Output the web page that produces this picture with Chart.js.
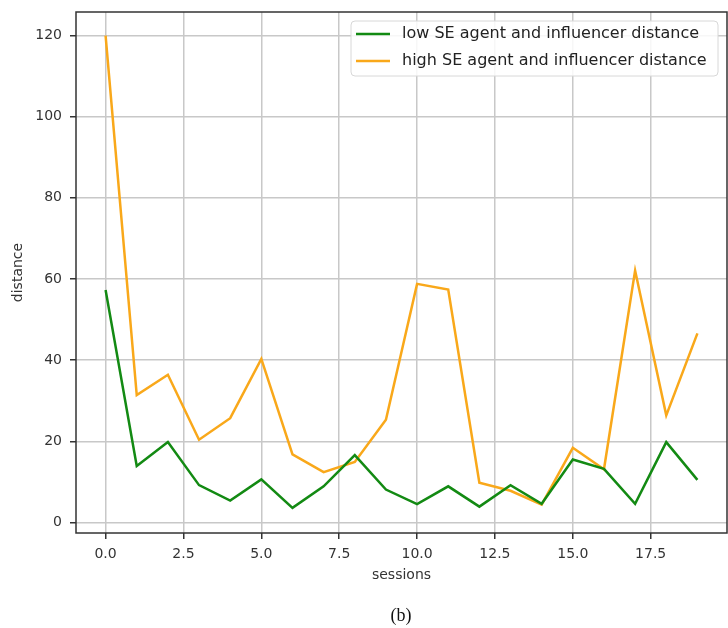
<!DOCTYPE html>
<html>
<head>
<meta charset="utf-8">
<script src="https://cdn.jsdelivr.net/npm/chart.js@4/dist/chart.umd.min.js"></script>
<style>
html,body{margin:0;padding:0;background:#fff;}
#wrap{width:728px;height:628px;position:relative;}
</style>
</head>
<body>
<div id="wrap"><canvas id="c" width="728" height="628"></canvas></div>
<script>
const sessions = [0,1,2,3,4,5,6,7,8,9,10,11,12,13,14,15,16,17,18,19];
const lowSE = [57.3,13.9,19.8,9.2,5.4,10.6,3.6,8.9,16.6,8.1,4.5,8.9,3.9,9.2,4.6,15.5,13.2,4.6,19.8,10.5];
const highSE = [120.0,31.4,36.4,20.4,25.7,40.3,16.8,12.4,14.9,25.3,58.8,57.4,9.8,7.8,4.4,18.4,13.1,62.1,26.4,46.6];
const seriesLabels = ['low SE agent and influencer distance','high SE agent and influencer distance'];
const seriesColors = ['#138a13','#f9a81a'];
const xTicks = [0,2.5,5,7.5,10,12.5,15,17.5];
const xTickLabels = ['0.0','2.5','5.0','7.5','10.0','12.5','15.0','17.5'];
const yTicks = [0,20,40,60,80,100,120];
const yTickLabels = ['0','20','40','60','80','100','120'];
const xTitle = 'sessions';
const yTitle = 'distance';
const caption = '(b)';

const FONT = 'DejaVu Sans';
const toPts = arr => arr.map((v,i)=>({x:sessions[i], y:v}));

const deco = {
  id:'deco',
  beforeDraw(chart){
    const {ctx} = chart;
    ctx.save();
    ctx.fillStyle='#fff';
    ctx.fillRect(0,0,chart.width,chart.height);
    ctx.restore();
  },
  afterDraw(chart){
    const {ctx, chartArea:a} = chart;
    ctx.save();
    ctx.strokeStyle='#333';
    ctx.lineWidth=1.5;
    ctx.strokeRect(a.left, a.top, a.right-a.left, a.bottom-a.top);
    const bx=351, by=21, bw=367, bh=55, r=4;
    ctx.beginPath();
    ctx.moveTo(bx+r,by);
    ctx.arcTo(bx+bw,by,bx+bw,by+bh,r);
    ctx.arcTo(bx+bw,by+bh,bx,by+bh,r);
    ctx.arcTo(bx,by+bh,bx,by,r);
    ctx.arcTo(bx,by,bx+bw,by,r);
    ctx.closePath();
    ctx.fillStyle='rgba(255,255,255,0.85)';
    ctx.fill();
    ctx.strokeStyle='#d8d8d8';
    ctx.lineWidth=1;
    ctx.stroke();
    chart.data.datasets.forEach((ds,i)=>{
      const y = 34 + i*27;
      ctx.strokeStyle=ds.borderColor;
      ctx.lineWidth=2.5;
      ctx.beginPath();
      ctx.moveTo(356,y);ctx.lineTo(390,y);
      ctx.stroke();
      ctx.fillStyle='#222';
      ctx.font='16px "'+FONT+'"';
      ctx.textBaseline='middle';
      ctx.textAlign='left';
      ctx.fillText(ds.label,402,y);
    });
    ctx.fillStyle='#111';
    ctx.font='18px "Liberation Serif"';
    ctx.textAlign='center';
    ctx.textBaseline='middle';
    ctx.fillText(caption,401,616);
    ctx.restore();
  }
};

new Chart(document.getElementById('c'),{
  type:'line',
  data:{
    datasets:[
      {label:seriesLabels[0], data:toPts(lowSE), borderColor:seriesColors[0], backgroundColor:seriesColors[0], borderWidth:2.5, pointRadius:0, tension:0, fill:false},
      {label:seriesLabels[1], data:toPts(highSE), borderColor:seriesColors[1], backgroundColor:seriesColors[1], borderWidth:2.5, pointRadius:0, tension:0, fill:false}
    ]
  },
  options:{
    responsive:false,
    animation:false,
    devicePixelRatio:1,
    layout:{padding:{left:0,top:12,right:1,bottom:0}},
    plugins:{legend:{display:false}, tooltip:{enabled:false}},
    scales:{
      x:{
        type:'linear', min:-0.95, max:19.95,
        afterFit(s){ s.height = 95; s.paddingLeft = 0; s.paddingRight = 0; },
        afterBuildTicks(s){ s.ticks = xTicks.map(v=>({value:v})); },
        ticks:{ autoSkip:false, maxRotation:0, padding:7, color:'#333',
          font:{family:FONT,size:14},
          callback:(v)=>{ const i=xTicks.indexOf(v); return i>=0?xTickLabels[i]:''; } },
        grid:{ color:'#c8c8c8', lineWidth:1.5, tickColor:'#333', tickWidth:1.5, tickLength:6, drawTicks:true },
        border:{ display:false },
        title:{ display:true, text:xTitle, color:'#333', font:{family:FONT,size:14}, padding:{top:0,bottom:44} }
      },
      y:{
        type:'linear', min:-2.6, max:125.8,
        afterFit(s){ s.width = 76; s.paddingTop = 0; s.paddingBottom = 0; },
        afterBuildTicks(s){ s.ticks = yTicks.map(v=>({value:v})); },
        ticks:{ autoSkip:false, padding:8, color:'#333',
          font:{family:FONT,size:14},
          callback:(v)=>{ const i=yTicks.indexOf(v); return i>=0?yTickLabels[i]:''; } },
        grid:{ color:'#c8c8c8', lineWidth:1.5, tickColor:'#333', tickWidth:1.5, tickLength:6, drawTicks:true },
        border:{ display:false },
        title:{ display:true, text:yTitle, color:'#333', font:{family:FONT,size:14}, padding:{top:10,bottom:0} }
      }
    }
  },
  plugins:[deco]
});
</script>
</body>
</html>
